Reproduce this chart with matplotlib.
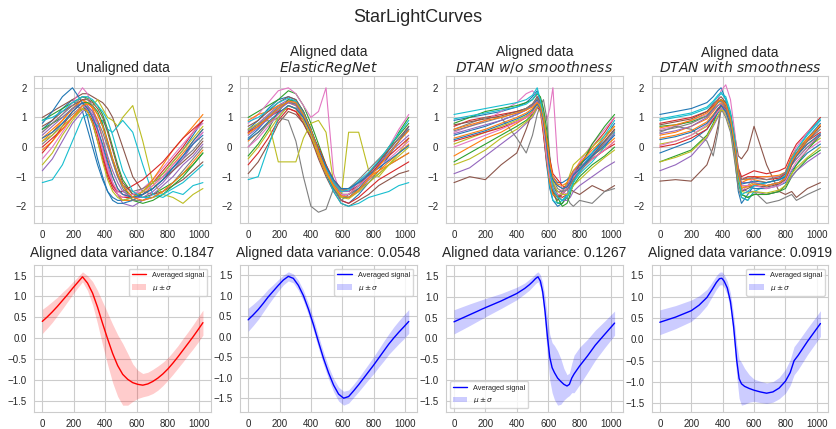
import numpy as np
import matplotlib
matplotlib.use("Agg")
import matplotlib.pyplot as plt
from matplotlib.ticker import MultipleLocator
import seaborn as sns

# --- StarLightCurves: raw series and three alignment results -------------
# each method keeps its own sample positions (time index 0..1023)

x_unaligned = [0, 64, 128, 192, 256, 288, 320, 352, 384, 416, 448, 480, 512,
               576, 640, 704, 768, 832, 896, 960, 1023]
curves_unaligned = [
    [0.6, 0.9, 1.3, 1.6, 1.2, 0.6, 0.0, -0.6, -1.1, -1.5, -1.7, -1.8, -1.8, -1.7, -1.5, -1.2, -0.9, -0.5, -0.1, 0.4, 0.9],
    [0.3, 0.6, 0.9, 1.3, 1.6, 1.4, 1.0, 0.4, -0.2, -0.8, -1.3, -1.6, -1.8, -1.8, -1.6, -1.3, -1.0, -0.6, -0.2, 0.2, 0.6],
    [0.9, 1.1, 1.3, 1.5, 1.7, 1.65, 1.55, 1.4, 1.1, 0.6, 0.0, -0.6, -1.1, -1.6, -1.7, -1.6, -1.4, -1.2, -0.9, -0.6, -0.2],
    [-0.2, 0.2, 0.7, 1.2, 1.5, 1.2, 0.8, 0.2, -0.4, -1.0, -1.4, -1.6, -1.7, -1.7, -1.5, -1.2, -0.8, -0.4, 0.0, 0.5, 0.9],
    [-0.8, -0.4, 0.2, 0.8, 1.2, 1.3, 1.1, 0.6, 0.0, -0.6, -1.2, -1.6, -1.9, -2.0, -1.8, -1.6, -1.3, -1.0, -0.6, -0.3, 0.1],
    [1.0, 1.2, 1.4, 1.6, 1.8, 1.8, 1.7, 1.6, 1.5, 1.3, 1.0, 0.5, 0.0, -1.0, -1.5, -1.6, -1.5, -1.3, -1.1, -0.8, -0.5],
    [0.5, 0.8, 1.1, 1.5, 2.0, 1.8, 1.3, 0.6, -0.1, -0.8, -1.3, -1.6, -1.7, -1.6, -1.4, -1.1, -0.7, -0.3, 0.1, 0.5, 0.8],
    [0.1, 0.4, 0.8, 1.1, 1.4, 1.35, 1.2, 0.9, 0.5, 0.0, -0.5, -1.0, -1.3, -1.5, -1.4, -1.2, -1.0, -0.7, -0.4, -0.1, 0.3],
    [-0.6, -0.2, 0.4, 0.9, 1.3, 1.5, 1.4, 1.6, 1.3, 1.0, 0.9, 0.7, 1.0, 1.4, 0.2, -1.2, -1.6, -1.7, -1.9, -1.6, -1.4],
    [-1.2, -1.1, -0.6, 0.2, 1.0, 1.1, 0.9, 0.7, 0.9, 0.6, 0.5, 0.7, 0.9, 0.5, -0.6, -1.6, -1.7, -1.5, -1.6, -1.3, -1.2],
    [0.8, 1.2, 1.7, 2.0, 1.5, 1.0, 0.3, -0.4, -1.0, -1.5, -1.8, -1.9, -1.9, -1.8, -1.6, -1.4, -1.1, -0.7, -0.3, 0.2, 0.6],
    [0.2, 0.5, 0.9, 1.3, 1.6, 1.5, 1.3, 0.9, 0.3, -0.4, -1.0, -1.4, -1.6, -1.7, -1.5, -1.1, -0.6, -0.1, 0.3, 0.7, 1.1],
    [0.6, 0.8, 1.0, 1.3, 1.5, 1.5, 1.4, 1.2, 0.8, 0.2, -0.4, -0.9, -1.3, -1.8, -1.9, -1.8, -1.6, -1.3, -1.0, -0.6, -0.2],
    [0.0, 0.3, 0.6, 1.0, 1.3, 1.2, 0.9, 0.4, -0.3, -0.9, -1.3, -1.5, -1.5, -1.3, -1.1, -0.8, -0.5, -0.1, 0.3, 0.6, 0.9],
    [0.4, 0.7, 1.0, 1.3, 1.5, 1.4, 1.2, 0.8, 0.3, -0.3, -0.8, -1.2, -1.5, -1.7, -1.7, -1.5, -1.2, -0.8, -0.4, 0.1, 0.5],
    [0.7, 0.9, 1.2, 1.4, 1.6, 1.6, 1.5, 1.3, 1.0, 0.5, -0.1, -0.7, -1.2, -1.6, -1.6, -1.4, -1.1, -0.8, -0.5, -0.2, 0.2],
    [-0.4, 0.0, 0.5, 1.0, 1.4, 1.3, 1.0, 0.5, -0.1, -0.7, -1.2, -1.5, -1.6, -1.6, -1.5, -1.3, -1.0, -0.6, -0.3, 0.1, 0.5],
    [0.5, 0.8, 1.1, 1.4, 1.7, 1.6, 1.4, 1.1, 0.7, 0.1, -0.5, -1.0, -1.4, -1.8, -1.8, -1.7, -1.5, -1.2, -0.8, -0.4, 0.0],
    [0.2, 0.4, 0.7, 1.0, 1.3, 1.2, 0.8, 0.2, -0.5, -1.1, -1.5, -1.7, -1.8, -1.7, -1.5, -1.2, -0.9, -0.5, -0.1, 0.3, 0.7],
    [0.9, 1.0, 1.2, 1.5, 1.7, 1.7, 1.6, 1.4, 1.2, 0.9, 0.4, -0.2, -0.8, -1.5, -1.7, -1.7, -1.6, -1.4, -1.2, -0.9, -0.6],
    [0.3, 0.5, 0.8, 1.2, 1.5, 1.3, 1.0, 0.6, 0.1, -0.5, -1.0, -1.4, -1.6, -1.7, -1.6, -1.4, -1.1, -0.7, -0.3, 0.1, 0.4],
    [-0.1, 0.2, 0.6, 1.0, 1.4, 1.45, 1.35, 1.1, 0.7, 0.2, -0.4, -0.9, -1.3, -1.7, -1.8, -1.7, -1.5, -1.2, -0.9, -0.5, -0.1],
]

x_elastic = [0, 64, 128, 192, 256, 304, 352, 400, 448, 496, 544, 592, 640, 704, 768, 832, 896, 960, 1023]
curves_elastic = [
    [0.6, 0.9, 1.3, 1.6, 1.7, 1.6, 1.2, 0.6, -0.1, -0.8, -1.4, -1.8, -1.9, -1.6, -1.2, -0.8, -0.3, 0.2, 0.7],
    [0.2, 0.5, 0.8, 1.1, 1.4, 1.3, 0.9, 0.4, -0.2, -0.8, -1.3, -1.6, -1.6, -1.4, -1.1, -0.8, -0.5, -0.2, 0.1],
    [1.0, 1.2, 1.4, 1.6, 1.9, 1.8, 1.4, 0.8, 0.1, -0.6, -1.2, -1.6, -1.7, -1.5, -1.1, -0.6, -0.1, 0.5, 1.0],
    [-0.6, -0.2, 0.3, 0.9, 1.3, 1.2, 0.8, 0.3, -0.3, -0.9, -1.4, -1.8, -1.9, -1.7, -1.4, -1.1, -0.9, -0.7, -0.5],
    [0.5, 0.8, 1.1, 1.4, 1.6, 1.5, 1.1, 0.5, -0.1, -0.7, -1.2, -1.5, -1.5, -1.2, -0.9, -0.5, -0.1, 0.3, 0.6],
    [-0.9, -0.5, 0.1, 0.8, 1.2, 1.1, 0.8, 0.3, -0.4, -1.0, -1.5, -1.9, -2.0, -1.8, -1.6, -1.3, -1.1, -0.9, -0.8],
    [0.8, 1.1, 1.5, 1.9, 2.0, 1.8, 1.4, 1.0, 1.2, 2.0, -0.9, -1.6, -1.7, -1.5, -1.1, -0.6, 0.0, 0.6, 1.1],
    [0.0, 0.4, 0.8, 1.0, 0.9, 0.2, -1.0, -2.0, -2.2, -2.1, -1.4, -1.8, -1.6, -1.4, -1.2, -0.9, -0.6, -0.4, -0.2],
    [0.6, 0.8, 0.9, -0.5, -0.5, -0.5, 0.3, 0.8, 0.9, 0.5, -1.2, -1.7, 0.5, 0.5, -0.8, -1.0, -0.6, -0.2, 0.3],
    [-1.1, -1.0, 0.0, 1.0, 1.4, 1.3, 1.0, 0.5, -0.2, -0.9, -1.5, -1.9, -2.0, -1.9, -1.7, -1.6, -1.5, -1.3, -1.2],
    [0.3, 0.6, 1.0, 1.3, 1.5, 1.45, 1.1, 0.5, -0.2, -0.9, -1.4, -1.7, -1.7, -1.4, -1.0, -0.6, -0.2, 0.2, 0.6],
    [0.9, 1.1, 1.2, 1.4, 1.5, 1.4, 1.0, 0.4, -0.3, -0.9, -1.3, -1.5, -1.4, -1.2, -1.0, -0.8, -0.6, -0.4, -0.2],
    [-0.3, 0.1, 0.6, 1.2, 1.6, 1.55, 1.2, 0.6, -0.1, -0.8, -1.3, -1.6, -1.6, -1.3, -0.9, -0.5, 0.0, 0.4, 0.8],
    [0.5, 0.7, 1.0, 1.2, 1.3, 1.2, 0.9, 0.5, 0.0, -0.6, -1.1, -1.4, -1.5, -1.3, -1.0, -0.6, -0.3, 0.0, 0.3],
    [0.4, 0.65, 0.95, 1.25, 1.5, 1.4, 1.0, 0.45, -0.15, -0.75, -1.2, -1.5, -1.5, -1.2, -0.9, -0.55, -0.2, 0.1, 0.4],
    [0.7, 0.9, 1.2, 1.5, 1.7, 1.6, 1.2, 0.6, -0.1, -0.7, -1.3, -1.6, -1.6, -1.3, -0.9, -0.5, -0.1, 0.3, 0.7],
    [0.0, 0.3, 0.7, 1.1, 1.4, 1.3, 0.95, 0.45, -0.2, -0.8, -1.3, -1.6, -1.6, -1.3, -1.0, -0.7, -0.4, -0.1, 0.2],
    [0.55, 0.75, 1.05, 1.35, 1.55, 1.45, 1.05, 0.5, -0.1, -0.7, -1.15, -1.45, -1.4, -1.1, -0.75, -0.4, -0.05, 0.3, 0.6],
    [-0.4, 0.0, 0.5, 1.0, 1.4, 1.3, 0.9, 0.4, -0.25, -0.85, -1.35, -1.7, -1.75, -1.5, -1.2, -0.9, -0.6, -0.3, 0.0],
    [0.85, 1.0, 1.25, 1.5, 1.65, 1.55, 1.15, 0.55, -0.1, -0.7, -1.2, -1.5, -1.45, -1.15, -0.85, -0.45, 0.0, 0.45, 0.9],
    [0.25, 0.5, 0.85, 1.15, 1.4, 1.3, 1.0, 0.5, -0.1, -0.65, -1.1, -1.4, -1.4, -1.2, -0.95, -0.7, -0.45, -0.2, 0.05],
    [0.45, 0.7, 1.0, 1.3, 1.55, 1.5, 1.1, 0.55, -0.15, -0.8, -1.3, -1.65, -1.7, -1.45, -1.05, -0.65, -0.25, 0.2, 0.55],
]

x_dtan = [0, 100, 200, 300, 400, 460, 500, 530, 550, 570, 590, 610, 630, 660, 690, 720, 740, 760,
          800, 880, 960, 1023]
curves_dtan = [
    [0.9, 1.0, 1.1, 1.2, 1.35, 1.5, 1.7, 1.9, 1.5, 0.5, -0.6, -1.4, -1.8, -2.0, -1.9, -1.6, -1.2, -0.9, -0.6, -0.2, 0.3, 0.8],
    [0.3, 0.45, 0.6, 0.8, 1.0, 1.15, 1.3, 1.5, 1.3, 0.8, 0.0, -0.7, -1.1, -1.3, -1.4, -1.3, -1.1, -0.9, -0.7, -0.3, 0.0, 0.3],
    [-0.5, -0.2, 0.1, 0.4, 0.7, 0.9, 1.1, 1.4, 1.6, 1.2, 0.2, -0.8, -1.5, -1.9, -1.9, -1.7, -1.5, -1.3, -1.0, -0.6, -0.3, 0.0],
    [0.7, 0.9, 1.0, 1.1, 1.2, 1.3, 1.45, 1.6, 1.2, 0.4, -0.5, -1.1, -1.4, -1.6, -1.7, -1.6, -1.3, -1.0, -0.6, 0.0, 0.5, 1.0],
    [-0.9, -0.7, -0.3, 0.1, 0.5, 0.8, 1.0, 1.3, 1.4, 1.0, 0.0, -0.9, -1.4, -1.7, -1.8, -1.8, -1.7, -1.5, -1.3, -1.0, -0.7, -0.5],
    [-1.2, -1.0, -1.1, -0.6, -0.2, 0.6, 1.2, 1.5, 1.3, 0.7, -0.3, -1.2, -1.6, -1.8, -1.5, -1.2, -1.4, -1.5, -1.6, -1.3, -1.5, -1.3],
    [0.5, 0.7, 0.9, 1.2, 1.5, 1.8, 1.9, 1.7, 1.5, 1.2, 0.9, 1.3, 2.0, -0.5, -1.5, -1.6, -1.2, -0.9, -0.5, 0.1, 0.6, 1.0],
    [0.6, 0.8, 1.0, 1.0, 0.3, -0.2, 0.4, 1.1, 1.4, 1.6, 1.0, -0.3, -1.2, -1.6, -1.8, -1.7, -1.9, -2.0, -1.8, -1.9, -1.5, -1.4],
    [0.1, 0.3, 0.5, 0.7, 0.9, 1.05, 1.2, 1.4, 1.2, 0.6, -0.2, -0.9, -1.3, -1.5, -1.5, -1.2, -0.9, -0.6, -0.4, 0.0, 0.4, 0.7],
    [1.1, 1.2, 1.3, 1.4, 1.5, 1.6, 1.75, 2.0, 1.6, 0.7, -0.4, -1.3, -1.8, -1.9, -1.8, -1.6, -1.4, -1.2, -0.9, -0.5, 0.0, 0.5],
    [0.4, 0.55, 0.7, 0.9, 1.1, 1.25, 1.4, 1.6, 1.4, 0.9, 0.1, -0.6, -1.0, -1.2, -1.2, -1.1, -1.0, -0.8, -0.6, -0.2, 0.2, 0.6],
    [-0.3, 0.0, 0.3, 0.5, 0.8, 1.0, 1.2, 1.5, 1.3, 0.6, -0.4, -1.2, -1.6, -1.7, -1.6, -1.4, -1.2, -1.0, -0.8, -0.4, -0.1, 0.2],
    [0.8, 1.0, 1.2, 1.3, 1.4, 1.5, 1.6, 1.8, 1.7, 1.3, 0.6, -0.4, -1.2, -1.7, -2.0, -1.9, -1.6, -1.2, -0.7, 0.1, 0.7, 1.1],
    [0.2, 0.35, 0.5, 0.65, 0.85, 1.0, 1.15, 1.35, 1.25, 0.9, 0.3, -0.4, -0.9, -1.1, -1.3, -1.4, -1.3, -1.1, -0.8, -0.4, -0.1, 0.1],
    [0.45, 0.6, 0.75, 0.9, 1.1, 1.25, 1.4, 1.55, 1.35, 0.8, -0.1, -0.9, -1.3, -1.5, -1.5, -1.3, -1.1, -0.9, -0.7, -0.25, 0.1, 0.45],
    [0.75, 0.85, 0.95, 1.05, 1.2, 1.3, 1.45, 1.7, 1.5, 0.9, 0.0, -0.9, -1.5, -1.7, -1.6, -1.4, -1.2, -1.0, -0.8, -0.3, 0.2, 0.6],
    [0.0, 0.2, 0.4, 0.6, 0.85, 1.0, 1.15, 1.4, 1.3, 0.7, -0.3, -1.0, -1.4, -1.6, -1.6, -1.4, -1.2, -1.0, -0.8, -0.4, -0.1, 0.2],
    [0.55, 0.7, 0.85, 1.0, 1.15, 1.3, 1.45, 1.65, 1.45, 1.0, 0.2, -0.6, -1.1, -1.4, -1.5, -1.45, -1.3, -1.1, -0.85, -0.35, 0.15, 0.55],
    [-0.6, -0.4, -0.1, 0.3, 0.6, 0.85, 1.05, 1.35, 1.45, 1.1, 0.3, -0.6, -1.2, -1.5, -1.6, -1.6, -1.5, -1.3, -1.1, -0.7, -0.35, -0.1],
    [0.95, 1.05, 1.15, 1.25, 1.35, 1.45, 1.6, 1.85, 1.6, 1.0, 0.1, -0.8, -1.4, -1.7, -1.8, -1.7, -1.5, -1.2, -0.8, -0.2, 0.4, 0.9],
    [0.25, 0.4, 0.55, 0.75, 0.95, 1.1, 1.25, 1.45, 1.3, 0.85, 0.1, -0.7, -1.1, -1.3, -1.4, -1.35, -1.2, -0.95, -0.75, -0.3, 0.05, 0.4],
    [0.6, 0.75, 0.9, 1.0, 1.15, 1.25, 1.35, 1.5, 1.35, 0.95, 0.25, -0.5, -1.0, -1.25, -1.3, -1.2, -1.0, -0.8, -0.55, -0.1, 0.3, 0.7],
]

x_dtan_smooth = [0, 100, 200, 300, 340, 370, 390, 420, 450, 480, 500, 520, 560, 600, 680, 760, 800,
                 840, 870, 940, 1023]
curves_dtan_smooth = [
    [1.1, 1.2, 1.3, 1.5, 1.7, 1.9, 2.0, 1.6, 0.8, -0.5, -1.5, -1.9, -1.6, -1.3, -1.2, -1.1, -1.0, -0.5, -0.2, 0.3, 0.8],
    [0.3, 0.4, 0.55, 0.85, 1.1, 1.3, 1.4, 1.2, 0.7, -0.2, -0.8, -1.1, -1.1, -1.1, -1.2, -1.1, -0.9, -0.5, -0.3, 0.1, 0.4],
    [-0.5, -0.3, -0.1, 0.4, 0.8, 1.2, 1.4, 1.3, 0.9, -0.3, -1.2, -1.6, -1.7, -1.6, -1.6, -1.5, -1.4, -1.0, -0.8, -0.4, -0.1],
    [0.8, 0.9, 1.0, 1.2, 1.4, 1.55, 1.6, 1.4, 0.9, 0.0, -0.7, -1.0, -0.9, -0.8, -0.9, -0.8, -0.7, -0.2, 0.1, 0.5, 1.0],
    [-0.8, -0.6, -0.3, 0.3, 0.7, 1.0, 1.2, 1.2, 0.8, -0.2, -1.0, -1.4, -1.5, -1.5, -1.6, -1.5, -1.3, -1.0, -0.8, -0.5, -0.2],
    [-1.15, -1.1, -1.15, -0.6, 0.0, 0.7, 1.3, 1.4, 1.1, 0.3, -0.3, -0.4, -0.1, 0.7, -0.6, -1.5, -1.6, -1.5, -1.7, -1.4, -1.2],
    [0.6, 0.7, 0.9, 1.1, 1.3, 1.6, 1.9, 2.1, 1.6, 0.4, -0.8, -1.5, -1.3, -1.0, -1.0, -1.0, -0.9, -0.3, 0.0, 0.5, 0.9],
    [0.5, 0.7, 0.6, 0.2, -0.3, 0.5, 1.3, 1.0, 0.5, -0.6, -1.4, -1.7, -1.8, -1.5, -1.9, -1.8, -1.7, -1.6, -1.8, -1.6, -1.4],
    [0.1, 0.2, 0.4, 0.7, 1.0, 1.2, 1.3, 1.1, 0.6, -0.4, -1.1, -1.4, -1.3, -1.2, -1.3, -1.2, -1.1, -0.6, -0.4, 0.0, 0.3],
    [0.9, 1.0, 1.1, 1.3, 1.5, 1.7, 1.8, 1.7, 1.2, 0.2, -0.9, -1.7, -1.8, -1.5, -1.3, -1.2, -1.0, -0.4, -0.1, 0.4, 0.9],
    [-0.2, 0.0, 0.2, 0.6, 0.9, 1.15, 1.3, 1.2, 0.7, -0.3, -1.0, -1.3, -1.3, -1.4, -1.4, -1.3, -1.2, -0.8, -0.6, -0.2, 0.1],
    [0.4, 0.5, 0.7, 0.95, 1.2, 1.4, 1.5, 1.3, 0.8, -0.1, -0.9, -1.2, -1.1, -1.0, -1.0, -0.95, -0.85, -0.3, -0.1, 0.3, 0.7],
    [0.7, 0.75, 0.85, 1.05, 1.3, 1.5, 1.6, 1.5, 1.1, 0.1, -1.0, -1.6, -1.7, -1.6, -1.6, -1.5, -1.3, -0.9, -0.6, -0.1, 0.4],
    [0.0, 0.1, 0.3, 0.6, 0.95, 1.25, 1.4, 1.3, 0.8, -0.1, -0.8, -1.1, -1.0, -1.0, -1.1, -1.05, -0.9, -0.4, -0.2, 0.2, 0.5],
    [0.45, 0.55, 0.7, 1.0, 1.25, 1.4, 1.45, 1.25, 0.8, -0.2, -0.9, -1.2, -1.2, -1.2, -1.3, -1.2, -1.05, -0.6, -0.4, 0.0, 0.4],
    [0.75, 0.85, 0.95, 1.2, 1.45, 1.6, 1.7, 1.5, 1.0, 0.0, -1.0, -1.5, -1.4, -1.3, -1.35, -1.25, -1.1, -0.6, -0.3, 0.2, 0.7],
    [0.05, 0.2, 0.4, 0.75, 1.0, 1.2, 1.3, 1.15, 0.7, -0.3, -1.0, -1.3, -1.3, -1.3, -1.4, -1.3, -1.15, -0.75, -0.5, -0.1, 0.2],
    [0.55, 0.65, 0.8, 1.05, 1.3, 1.5, 1.55, 1.35, 0.9, -0.1, -0.8, -1.1, -1.05, -1.05, -1.1, -1.0, -0.85, -0.4, -0.2, 0.2, 0.6],
    [-0.5, -0.35, -0.15, 0.35, 0.75, 1.05, 1.25, 1.2, 0.75, -0.25, -1.1, -1.5, -1.55, -1.5, -1.55, -1.45, -1.3, -0.9, -0.7, -0.35, 0.0],
    [0.95, 1.05, 1.15, 1.35, 1.55, 1.75, 1.85, 1.6, 1.1, 0.1, -1.0, -1.6, -1.5, -1.3, -1.2, -1.1, -0.95, -0.4, -0.1, 0.45, 0.95],
    [0.25, 0.35, 0.5, 0.8, 1.05, 1.3, 1.4, 1.2, 0.75, -0.2, -0.95, -1.25, -1.2, -1.15, -1.2, -1.1, -1.0, -0.55, -0.3, 0.1, 0.45],
    [0.65, 0.75, 0.9, 1.15, 1.35, 1.55, 1.6, 1.45, 0.95, -0.05, -0.9, -1.35, -1.35, -1.25, -1.3, -1.2, -1.05, -0.5, -0.25, 0.25, 0.75],
]

# averaged signal and its spread, on finer sample positions
x_stats_grid = list(range(0, 1024, 32)) + [1023]
mean_unaligned = [0.40, 0.51, 0.63, 0.76, 0.90, 1.04, 1.19, 1.33, 1.47,
                  1.32, 1.08, 0.74, 0.35, -0.02, -0.37, -0.66, -0.87,
                  -0.99, -1.07, -1.11, -1.13, -1.10, -1.04, -0.96, -0.86,
                  -0.74, -0.60, -0.45, -0.29, -0.13, 0.03, 0.20, 0.37]
std_unaligned = [0.29, 0.27, 0.25, 0.22, 0.20, 0.17, 0.15, 0.13, 0.12,
                 0.18, 0.28, 0.40, 0.52, 0.62, 0.70, 0.74, 0.74,
                 0.62, 0.45, 0.34, 0.28, 0.28, 0.29, 0.29, 0.28,
                 0.27, 0.27, 0.27, 0.28, 0.28, 0.29, 0.30, 0.30]
mean_elastic = [0.41, 0.53, 0.66, 0.81, 0.97, 1.11, 1.25, 1.38, 1.47,
                1.42, 1.25, 1.00, 0.67, 0.29, -0.13, -0.53, -0.88,
                -1.18, -1.40, -1.50, -1.46, -1.32, -1.17, -1.01, -0.85,
                -0.69, -0.52, -0.35, -0.18, -0.03, 0.11, 0.24, 0.37]
std_elastic = [0.28, 0.26, 0.24, 0.21, 0.19, 0.16, 0.14, 0.12, 0.11,
               0.11, 0.12, 0.13, 0.14, 0.15, 0.15, 0.15, 0.15,
               0.16, 0.17, 0.17, 0.16, 0.16, 0.17, 0.18, 0.19,
               0.21, 0.22, 0.24, 0.25, 0.27, 0.28, 0.29, 0.29]

x_stats_dtan = [0, 100, 200, 300, 400, 450, 480, 500, 520, 535, 550, 565, 580, 595, 610, 625, 640,
                660, 680, 700, 720, 735, 750, 765, 800, 850, 900, 960, 1023]
mean_dtan = [0.40, 0.57, 0.74, 0.90, 1.08, 1.20, 1.29, 1.36, 1.44, 1.48, 1.38, 1.12, 0.65, 0.05,
             -0.45, -0.70, -0.82, -0.95, -1.03, -1.10, -1.14, -1.10, -0.95, -0.85, -0.66, -0.42,
             -0.16, 0.10, 0.37]
std_dtan = [0.29, 0.26, 0.22, 0.18, 0.15, 0.13, 0.13, 0.12, 0.12, 0.12, 0.15, 0.22, 0.35, 0.48,
            0.55, 0.60, 0.65, 0.65, 0.55, 0.38, 0.27, 0.27, 0.35, 0.45, 0.45, 0.40, 0.36, 0.32, 0.29]

x_stats_dtan_smooth = [0, 100, 200, 250, 300, 330, 360, 380, 395, 410, 430, 450, 470, 490, 505, 520,
                       540, 570, 600, 640, 680, 720, 760, 800, 830, 855, 880, 940, 1023]
mean_dtan_smooth = [0.40, 0.52, 0.67, 0.80, 0.98, 1.15, 1.33, 1.42, 1.43, 1.36, 1.20, 0.88, 0.30,
                    -0.50, -0.92, -1.04, -1.10, -1.15, -1.19, -1.23, -1.26, -1.23, -1.14, -0.98,
                    -0.78, -0.50, -0.38, -0.05, 0.37]
std_dtan_smooth = [0.29, 0.27, 0.25, 0.22, 0.19, 0.17, 0.16, 0.15, 0.15, 0.15, 0.16, 0.20, 0.28,
                   0.38, 0.46, 0.50, 0.42, 0.32, 0.26, 0.25, 0.24, 0.24, 0.25, 0.28, 0.30, 0.33,
                   0.33, 0.31, 0.30]

top_titles = ["Unaligned data",
              "Aligned data\n$ElasticRegNet$",
              "Aligned data\n$DTAN\\ w/o\\ smoothness$",
              "Aligned data\n$DTAN\\ with\\ smoothness$"]
variances = [0.1847, 0.0548, 0.1267, 0.0919]
mean_colors = ["r", "b", "b", "b"]
legend_locs = ["upper right", "upper right", "lower left", "upper right"]

xs = [x_unaligned, x_elastic, x_dtan, x_dtan_smooth]
curves = [curves_unaligned, curves_elastic, curves_dtan, curves_dtan_smooth]
xs_stats = [x_stats_grid, x_stats_grid, x_stats_dtan, x_stats_dtan_smooth]
means = [mean_unaligned, mean_elastic, mean_dtan, mean_dtan_smooth]
stds = [std_unaligned, std_elastic, std_dtan, std_dtan_smooth]

sns.set_style("whitegrid")
plt.rcParams["font.family"] = ["Liberation Sans", "DejaVu Sans"]
plt.rcParams["axes.unicode_minus"] = True

fig, axes = plt.subplots(2, 4, figsize=(8.36, 4.29), dpi=100)
fig.subplots_adjust(left=0.041, right=0.991, top=0.823, bottom=0.04, wspace=0.165, hspace=0.29)
fig.suptitle("StarLightCurves", fontsize=13, y=0.98)

for i in range(4):
    ax = axes[0, i]
    for c in curves[i]:
        ax.plot(xs[i], c, lw=0.8)
    ax.set_ylim(-2.55, 2.4)
    ax.set_title(top_titles[i], fontsize=10, pad=3, linespacing=1.0)
    ax.tick_params(labelsize=7, pad=2)

    x = np.array(xs_stats[i])
    mu = np.array(means[i])
    sd = np.array(stds[i])
    ax = axes[1, i]
    ax.plot(x, mu, color=mean_colors[i], lw=1.0, label="Averaged signal")
    ax.fill_between(x, mu - sd, mu + sd, color=mean_colors[i], alpha=0.2, lw=0,
                    label=r"$\mu \pm \sigma$")
    ax.set_title(f"Aligned data variance: {variances[i]:.4f}", fontsize=10)
    ax.yaxis.set_major_locator(MultipleLocator(0.5))
    ax.tick_params(labelsize=7, pad=2)
    ax.legend(loc=legend_locs[i], fontsize=5.3, frameon=True)

fig.savefig("out.png", dpi=100)
